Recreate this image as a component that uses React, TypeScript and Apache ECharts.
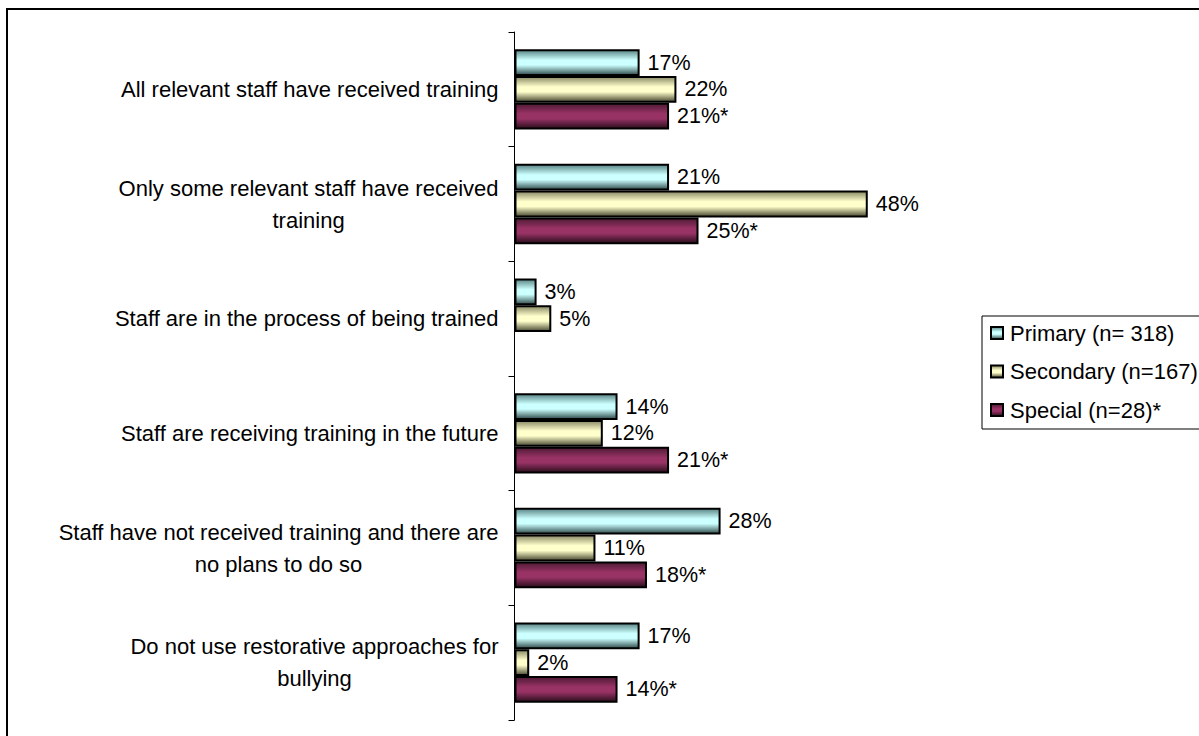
import React, { useEffect, useRef } from "react";
import * as echarts from "echarts";

const categories: string[] = [
  "All relevant staff have received training",
  "Only some relevant staff have received\ntraining",
  "Staff are in the process of being trained",
  "Staff are receiving training in the future",
  "Staff have not received training and there are\nno plans to do so",
  "Do not use restorative approaches for\nbullying",
];

const seriesNames: string[] = ["Primary (n= 318)", "Secondary (n=167)", "Special (n=28)*"];
const primary: (number | null)[] = [17, 21, 3, 14, 28, 17];
const secondary: (number | null)[] = [22, 48, 5, 12, 11, 2];
const special: (number | null)[] = [21, 25, null, 21, 18, 14];

const FONT = "'Liberation Sans', Arial, sans-serif";

function grad(dark: string, light: string, darker: string) {
  return new echarts.graphic.LinearGradient(0, 0, 0, 1, [
    { offset: 0, color: dark },
    { offset: 0.4, color: light },
    { offset: 0.6, color: light },
    { offset: 1, color: darker },
  ]);
}

export default function App() {
  const ref = useRef<HTMLDivElement>(null);
  useEffect(() => {
    if (!ref.current) return;
    const chart = echarts.init(ref.current, undefined, { renderer: "svg" });
    const colors = [
      grad("#5a8585", "#ccffff", "#2f4a4a"),
      grad("#8a8a66", "#ffffcc", "#4a4a33"),
      grad("#4d1a33", "#993366", "#2a0e1c"),
    ];
    const datas = [primary, secondary, special];
    const suffix = ["%", "%", "%*"];
    chart.setOption({
      animation: false,
      backgroundColor: "#ffffff",
      textStyle: { fontFamily: FONT },
      graphic: [
        {
          type: "rect",
          shape: { x: 7, y: 9, width: 1400, height: 1000 },
          style: { fill: "none", stroke: "#000", lineWidth: 2 },
          silent: true,
        },
      ],
      legend: {
        orient: "vertical",
        left: 982,
        top: 316,
        padding: [6, 40, 8, 8],
        itemGap: 16.5,
        itemWidth: 12,
        itemHeight: 12,
        borderColor: "#000",
        borderWidth: 1,
        icon: "rect",
        textStyle: { fontSize: 22, color: "#000", fontFamily: FONT, lineHeight: 22, padding: [0, 0, 0, 2] },
        data: seriesNames,
      },
      grid: { left: 514.5, top: 32, width: 441.6, height: 688, containLabel: false },
      xAxis: {
        type: "value",
        min: 0,
        max: 60,
        show: false,
      },
      yAxis: {
        type: "category",
        data: categories,
        inverse: true,
        axisLine: { show: true, lineStyle: { color: "#000", width: 1 } },
        axisTick: { show: true, inside: false, length: 6, lineStyle: { color: "#000" } },
        axisLabel: {
          margin: 16,
          align: "right",
          color: "#000",
          fontSize: 22,
          fontFamily: FONT,
          formatter: (v: string) => v.split("\n").map((l) => `{c|${l}}`).join("\n"),
          rich: {
            c: { align: "center", fontSize: 22, lineHeight: 32, fontFamily: FONT, color: "#000" },
          },
        },
        splitLine: { show: false },
      },
      series: seriesNames.map((name, i) => ({
        name,
        type: "bar",
        data: datas[i],
        barGap: "0%",
        barCategoryGap: "30%",
        itemStyle: { color: colors[i], borderColor: "#000", borderWidth: 2 },
        label: {
          show: true,
          position: "right",
          distance: 8,
          color: "#000",
          fontSize: 21.5,
          fontFamily: FONT,
          formatter: (p: any) => (p.value == null ? "" : `${p.value}${suffix[i]}`),
        },
      })),
    });
    return () => chart.dispose();
  }, []);
  return (
    <div
      ref={ref}
      style={{ position: "fixed", left: 0, top: 0, width: 1199, height: 736 }}
    />
  );
}
